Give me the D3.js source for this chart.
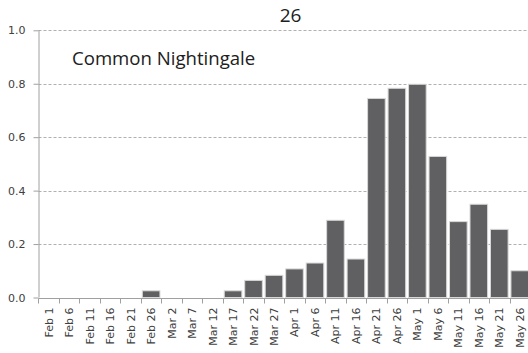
<!DOCTYPE html>
<html>
<head>
<meta charset="utf-8">
<script src="https://cdn.jsdelivr.net/npm/d3@7"></script>
<style>
  html, body { margin: 0; padding: 0; background: #fff; }
  svg { display: block; }
</style>
</head>
<body>
<svg id="chart" width="528" height="353"></svg>
<script>
// Weekly (5-day) frequency of Common Nightingale records
const periods = ["Feb 1","Feb 6","Feb 11","Feb 16","Feb 21","Feb 26","Mar 2","Mar 7","Mar 12","Mar 17",
  "Mar 22","Mar 27","Apr 1","Apr 6","Apr 11","Apr 16","Apr 21","Apr 26","May 1","May 6",
  "May 11","May 16","May 21","May 26"];
const frequency = [0,0,0,0,0,0.025,0,0,0,0.025,
  0.064,0.083,0.107,0.129,0.289,0.144,0.745,0.783,0.798,0.528,
  0.284,0.349,0.255,0.100];
const yTicks = [0, 0.2, 0.4, 0.6, 0.8, 1.0];
const chartNumber = "26";
const speciesName = "Common Nightingale";

const svg = d3.select("#chart");
const plotLeft = 38.5, plotRight = 530, plotTop = 30.3, plotBottom = 297.5;
const axisFont = "DejaVu Sans, sans-serif";

const x = d3.scaleBand().domain(periods).range([plotLeft, plotRight]).paddingInner(0.14).paddingOuter(0.07);
const y = d3.scaleLinear().domain([0, 1]).range([plotBottom, plotTop]);

// Horizontal dashed gridlines
svg.append("g")
  .selectAll("line")
  .data(yTicks.filter(d => d > 0))
  .join("line")
  .attr("x1", plotLeft).attr("x2", 528)
  .attr("y1", d => Math.round(y(d)) + 0.5).attr("y2", d => Math.round(y(d)) + 0.5)
  .attr("stroke", "#b0b0b0").attr("stroke-width", 1).attr("stroke-dasharray", "3,2");

// Bars
svg.append("g")
  .selectAll("rect")
  .data(periods.map((p, i) => ({ p, v: frequency[i] })).filter(d => d.v > 0))
  .join("rect")
  .attr("x", d => x(d.p))
  .attr("width", x.bandwidth())
  .attr("y", d => y(d.v))
  .attr("height", d => y(0) - y(d.v))
  .attr("fill", "#606062")
  .attr("stroke", "#d8d8d8")
  .attr("stroke-width", 1);

// Y axis
const yAxis = d3.axisLeft(y).tickValues(yTicks).tickFormat(d3.format(".1f")).tickSize(5).tickPadding(8);
const gy = svg.append("g").attr("transform", `translate(${plotLeft},0)`).call(yAxis);
gy.select(".domain").attr("stroke", "#a0a0a0").attr("d", `M0.5,${plotTop}V${plotBottom}`);
gy.selectAll(".tick line").attr("stroke", "#a0a0a0").attr("x1", -5).attr("x2", 0);
gy.selectAll(".tick text")
  .attr("font-family", axisFont)
  .attr("font-size", 11).attr("fill", "#404040");

// X axis: ticks at band boundaries, rotated labels at band centres
const gx = svg.append("g").attr("transform", `translate(0,${Math.round(plotBottom) + 0.5})`);
gx.append("line").attr("x1", plotLeft).attr("x2", 528).attr("y1", 0).attr("y2", 0).attr("stroke", "#a0a0a0");
const step = x.step();
const boundaries = periods.map(p => x(p) - (step - x.bandwidth()) / 2);
gx.selectAll("line.tick")
  .data(boundaries)
  .join("line").attr("class", "tick")
  .attr("x1", d => Math.round(d) + 0.5).attr("x2", d => Math.round(d) + 0.5)
  .attr("y1", 0).attr("y2", 5)
  .attr("stroke", "#a0a0a0");
gx.selectAll("text")
  .data(periods)
  .join("text")
  .attr("transform", d => `translate(${x(d) + x.bandwidth() / 2 + 4},9) rotate(-90)`)
  .attr("text-anchor", "end")
  .attr("font-family", axisFont)
  .attr("font-size", 11).attr("fill", "#404040")
  .text(d => d);

// Titles
svg.append("text")
  .attr("x", 290.5).attr("y", 22)
  .attr("text-anchor", "middle")
  .attr("font-family", "Open Sans, sans-serif")
  .attr("font-size", 19).attr("fill", "#202020")
  .text(chartNumber);

svg.append("text")
  .attr("x", 72).attr("y", 64.5)
  .attr("font-family", "Open Sans, sans-serif")
  .attr("font-size", 18.6).attr("fill", "#202020")
  .text(speciesName);
</script>
</body>
</html>
